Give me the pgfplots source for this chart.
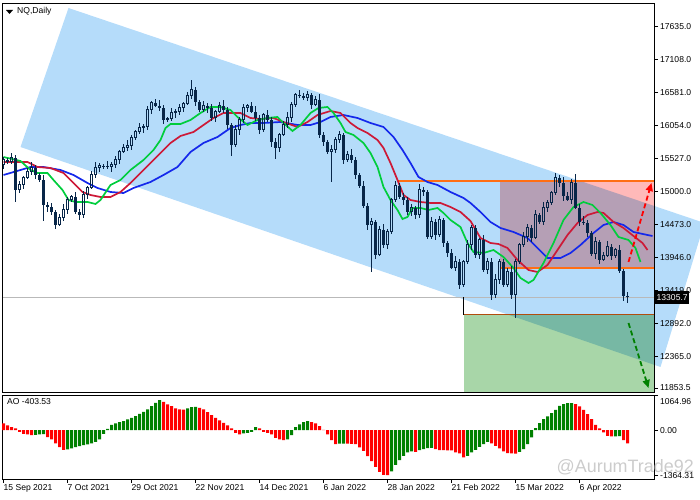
\documentclass[border=0pt]{standalone}
\usepackage{fontspec}
\setmainfont{Liberation Sans}
\usepackage{pgfplots}
\pgfplotsset{compat=1.18}
\usepackage{pgfplotstable}
\usetikzlibrary{arrows.meta}

\definecolor{chan}{RGB}{181,220,250}
\definecolor{pinkr}{RGB}{255,185,185}
\definecolor{greenr}{RGB}{168,214,168}
\definecolor{candle}{RGB}{8,38,72}
\definecolor{lips}{RGB}{0,205,60}
\definecolor{teeth}{RGB}{205,25,55}
\definecolor{jaw}{RGB}{20,40,235}
\definecolor{orl}{RGB}{255,110,20}
\definecolor{aog}{RGB}{0,128,0}
\definecolor{aor}{RGB}{255,0,0}
\newcommand\tl{\fontsize{8.6}{10}\selectfont}
\pgfplotsset{
  stick/.style={draw=candle, line width=#1, mark=none, forget plot},
  bull/.style={restrict expr to domain={\thisrow{c}-\thisrow{o}}{0.5:100000}},
  bear/.style={restrict expr to domain={\thisrow{o}-\thisrow{c}}{0.5:100000}},
}

% NQ daily candles, index 0 = 15 Sep 2021
\pgfplotstableread{
i o h l c
0 15422 15550 15358 15502
1 15502 15534 15430 15470
2 15470 15614 15438 15534
3 15534 15574 14830 15022
4 15022 15166 14974 15102
5 15102 15238 15030 15214
6 15214 15366 15190 15310
7 15310 15470 15254 15374
8 15374 15422 15198 15262
9 15262 15294 15142 15182
10 15182 15262 14530 14782
11 14782 14822 14662 14750
12 14750 14814 14622 14670
13 14670 14694 14390 14462
14 14462 14630 14438 14574
15 14574 14798 14518 14702
16 14702 14910 14638 14862
17 14862 14942 14822 14910
18 14910 14990 14638 14670
19 14670 14710 14534 14622
20 14622 15006 14574 14942
21 14942 15078 14870 15054
22 15054 15318 15030 15262
23 15262 15470 15206 15374
24 15374 15454 15310 15406
25 15406 15438 15350 15390
26 15390 15478 15358 15398
27 15398 15462 15310 15422
28 15422 15566 15374 15502
29 15502 15654 15430 15630
30 15630 15750 15606 15694
31 15694 15822 15638 15726
32 15726 15902 15662 15854
33 15854 15982 15814 15950
34 15950 16094 15918 16014
35 16014 16070 15926 16030
36 16030 16366 15982 16302
37 16302 16438 16230 16414
38 16414 16470 16342 16366
39 16366 16462 16278 16334
40 16334 16382 16078 16142
41 16142 16190 16102 16158
42 16158 16334 16126 16254
43 16254 16310 16166 16270
44 16270 16398 16222 16334
45 16334 16422 16262 16398
46 16398 16582 16374 16526
47 16526 16782 16470 16622
48 16622 16670 16366 16430
49 16430 16462 16262 16302
50 16302 16446 16270 16366
51 16366 16406 16246 16334
52 16334 16398 16126 16174
53 16174 16294 16102 16270
54 16270 16422 16246 16366
55 16366 16462 16246 16302
56 16302 16350 15998 16062
57 16062 16094 15560 15742
58 15742 16062 15710 15982
59 15982 16182 15894 16142
60 16142 16398 16094 16334
61 16334 16390 16262 16366
62 16366 16422 16246 16270
63 16270 16366 16118 16174
64 16174 16222 15918 15982
65 15982 16254 15942 16222
66 16222 16302 16110 16142
67 16142 16182 15702 15790
68 15790 15854 15520 15694
69 15694 15926 15622 15902
70 15902 16118 15878 16062
71 16062 16270 16006 16174
72 16174 16430 16110 16382
73 16382 16574 16342 16542
74 16542 16622 16494 16526
75 16526 16566 16454 16494
76 16494 16606 16446 16542
77 16542 16566 16310 16382
78 16382 16518 16358 16462
79 16462 16558 15846 15902
80 15902 15950 15726 15790
81 15790 15822 15598 15630
82 15630 15742 15150 15662
83 15662 15862 15614 15822
84 15822 15966 15774 15902
85 15902 15926 15430 15502
86 15502 15638 15470 15582
87 15582 15678 15446 15502
88 15502 15550 15198 15262
89 15262 15294 15046 15086
90 15086 15166 14734 14766
91 14766 14806 14374 14462
92 14462 14574 13710 14510
93 14510 14534 13910 13982
94 13982 14438 13958 14382
95 14382 14478 14086 14142
96 14142 14398 14078 14350
97 14350 14894 14310 14862
98 14862 15166 14830 15086
99 15086 15126 14870 14910
100 14910 14974 14774 14862
101 14862 14902 14622 14670
102 14670 14794 14598 14734
103 14734 14758 14550 14622
104 14622 15118 14566 15022
105 15022 15070 14926 14990
106 14990 15022 14230 14270
107 14270 14590 14238 14510
108 14510 14550 14214 14302
109 14302 14606 14262 14542
110 14542 14566 14102 14174
111 14174 14198 13942 14014
112 14014 14070 13750 13774
113 13774 13966 13718 13870
114 13870 13918 13438 13502
115 13502 13902 13462 13870
116 13870 14222 13838 14142
117 14142 14454 14054 14414
118 14414 14462 13934 13982
119 13982 14254 13910 14222
120 14222 14302 13710 13742
121 13742 13926 13670 13870
122 13870 13926 13254 13342
123 13342 13678 13294 13582
124 13582 13918 13518 13870
125 13870 13910 13462 13502
126 13502 13774 13470 13710
127 13710 13806 13270 13342
128 13342 13918 12974 13870
129 13870 14174 13830 14142
130 14142 14350 14110 14270
131 14270 14470 14182 14414
132 14414 14454 14190 14254
133 14254 14702 14230 14622
134 14622 14654 14478 14510
135 14510 14830 14454 14734
136 14734 14862 14670 14814
137 14814 15006 14774 14974
138 14974 15294 14942 15214
139 15214 15254 15062 15134
140 15134 15230 14838 14926
141 14926 14990 14838 14862
142 14862 15190 14790 15134
143 15134 15278 14710 14734
144 14734 14790 14446 14510
145 14510 14606 14462 14494
146 14494 14542 14270 14334
147 14334 14366 13958 13998
148 13998 14270 13910 14190
149 14190 14214 13830 13902
150 13902 14022 13878 13966
151 13966 14206 13942 14110
152 14110 14158 13902 13966
153 13966 14094 13926 14062
154 14062 14142 13694 13726
155 13726 13750 13238 13326
156 13326 13390 13210 13305.7
}\candles

% Awesome Oscillator, u = 1 when the bar is higher than the one before
\pgfplotstableread{
i v u
0 203 0
1 142 0
2 91 0
3 52 0
4 -52 0
5 -112 0
6 -130 0
7 -152 0
8 -142 1
9 -130 1
10 -121 1
11 -212 0
12 -282 0
13 -403 0
14 -515 0
15 -597 0
16 -585 1
17 -554 1
18 -515 1
19 -485 1
20 -455 1
21 -433 1
22 -403 1
23 -355 1
24 -282 1
25 -112 1
26 39 1
27 161 1
28 203 1
29 242 1
30 273 1
31 324 1
32 373 1
33 424 1
34 494 1
35 554 1
36 627 1
37 727 1
38 827 1
39 909 1
40 857 0
41 779 0
42 727 0
43 657 0
44 627 0
45 621 0
46 657 1
47 697 1
48 706 1
49 676 0
50 627 0
51 545 0
52 455 0
53 373 0
54 294 0
55 221 0
56 142 0
57 52 0
58 -82 0
59 -130 0
60 -100 1
61 -82 1
62 -52 1
63 91 1
64 52 0
65 -52 0
66 -82 0
67 -130 0
68 -233 0
69 -282 0
70 -303 0
71 -282 1
72 -152 1
73 91 1
74 173 1
75 242 1
76 273 1
77 242 0
78 203 0
79 121 0
80 9 0
81 -130 0
82 -303 0
83 -424 0
84 -412 1
85 -409 1
86 -412 0
87 -418 0
88 -424 0
89 -524 0
90 -627 0
91 -788 0
92 -939 0
93 -1112 0
94 -1264 0
95 -1354 0
96 -1364.31 0
97 -1251 1
98 -1051 1
99 -909 1
100 -779 1
101 -676 1
102 -645 1
103 -657 0
104 -606 1
105 -576 1
106 -545 1
107 -542 1
108 -576 0
109 -606 0
110 -609 0
111 -612 0
112 -615 0
113 -676 0
114 -706 0
115 -827 0
116 -779 1
117 -676 1
118 -597 1
119 -506 1
120 -424 1
121 -355 1
122 -403 0
123 -476 0
124 -554 0
125 -645 0
126 -697 0
127 -706 0
128 -709 0
129 -657 1
130 -576 1
131 -424 1
132 -221 1
133 61 1
134 212 1
135 333 1
136 415 1
137 515 1
138 615 1
139 736 1
140 788 1
141 818 1
142 821 1
143 788 0
144 718 0
145 615 0
146 485 0
147 333 0
148 161 0
149 52 0
150 -70 0
151 -173 0
152 -191 0
153 -188 1
154 -185 1
155 -303 0
156 -403.53 0
}\aodata

\begin{document}
\begin{tikzpicture}
\useasboundingbox (0,0) rectangle (700bp,500bp);

\begin{axis}[
    at={(2bp,108bp)}, anchor=south west,
    width=652bp, height=389bp, scale only axis,
    xmin=-0.375, xmax=162.625, ymin=11790, ymax=18014,
    clip=false, axis on top,
    xtick=\empty,
    ytick={11853.5,12365,12892,13419,13946,14473,15000,15527,16054,16581,17108,17635},
    scaled y ticks=false,
    ytick pos=right, yticklabel pos=right,
    tick align=outside, major tick length=4bp,
    tick style={black, line width=0.8bp},
    axis line style={black, line width=0.8bp},
    yticklabel style={font=\tl, anchor=west, inner sep=0pt, xshift=2bp},
    /pgf/number format/.cd, fixed, fixed zerofill, precision=1, 1000 sep={}, assume math mode=true
]
% channel and boxes
\addplot[fill=chan, draw=none, forget plot] coordinates {
    (16.25,17934) (174.25,14516) (174.25,14286) (164.25,12190) (4.25,15710)};
\addplot[fill=pinkr, draw=none, blend mode=multiply, forget plot] coordinates {
    (124,15166) (162.625,15166) (162.625,13774) (124,13774)};
\addplot[fill=greenr, draw=none, blend mode=multiply, forget plot] coordinates {
    (115,13022) (162.625,13022) (162.625,11790) (115,11790)};

% levels
\addplot[color=gray!55, line width=0.8bp, forget plot] coordinates {(-0.375,13305.7) (162.625,13305.7)};
\addplot[color=orl, line width=1.2bp, forget plot] coordinates {(98.25,15166) (162.625,15166)};
\addplot[color=orl, line width=1.2bp, forget plot] coordinates {(124,13774) (162.625,13774)};
\addplot[color=orl!70!black, line width=1bp, forget plot] coordinates {(115,13022) (162.625,13022)};
\addplot[color=black, line width=0.8bp, forget plot] coordinates {(115,13305.7) (115,13022)};

% Alligator lines
\addplot[color=jaw, line width=1.7bp] coordinates {
(0,15262) (4.25,15342) (6.75,15390) (10,15390) (14.25,15342) (17.5,15262)
(21,15134) (23.5,15054) (26.75,14990) (30,14974) (32.5,15054) (36.75,15150)
(40,15262) (43.5,15390) (46.75,15630) (50,15774) (53.5,15870) (56.75,16014)
(59.25,16062) (61.75,16094) (65,16094) (69.25,16110) (73.5,16062) (76.75,16062)
(79.25,16110) (81.75,16190) (85,16222) (88.5,16174) (91.75,16094) (95,16030)
(97.5,15870) (99.75,15662) (101.75,15454) (103.75,15230) (106,15150) (108.5,15102)
(111.75,14990) (115,14894) (116.75,14814) (119.25,14670) (121.75,14510) (124.25,14414)
(127.5,14350) (131,14254) (133.5,14094) (136,13934) (139.25,13934) (141.75,14014)
(144.25,14142) (147.5,14334) (150,14462) (152.5,14510) (155,14462) (157.5,14350)
(161,14302) (162.25,14286)};
\addplot[color=teeth, line width=1.7bp] coordinates {
(0,15470) (6,15470) (8.5,15390) (11.75,15374) (15,15294) (17.5,15134)
(19.75,14990) (21.75,14942) (24.25,14910) (26.75,14910) (29.25,14990) (31.75,15134)
(34.25,15294) (36.75,15454) (39.25,15614) (41.75,15774) (44.25,15886) (47.5,15950)
(50,16062) (52.5,16174) (55,16254) (59.25,16254) (61.75,16174) (64.25,16158)
(67.5,16174) (70,16110) (73.5,16030) (76,16110) (78.5,16222) (81.75,16286)
(84.25,16254) (86.75,16094) (88.5,16014) (91,15934) (93.5,15822) (95,15694)
(96.75,15454) (98.5,15182) (100,14942) (101.75,14862) (104.25,14830) (106.75,14814)
(109.25,14814) (111.75,14750) (114.25,14670) (116.75,14526) (119.25,14254) (121.75,14174)
(123.75,14158) (126,14094) (128.5,13902) (131.25,13742) (133.5,13710) (136,13822)
(138.5,14062) (141,14302) (143.5,14494) (146,14622) (148.5,14670) (150,14654)
(152.5,14510) (155,14414) (157.5,14286) (159.75,14174) (161,14062)};
\addplot[color=lips, line width=1.7bp] coordinates {
(0,15550) (4.25,15486) (6.75,15342) (8.5,15294) (11,15294) (12.5,15182)
(14.75,15022) (16.25,14862) (18,14830) (21,14830) (23,14798) (24.25,14862)
(26.75,15102) (29.25,15182) (31.75,15342) (35,15502) (37.5,15662) (39.25,15822)
(40.5,16014) (41.75,16078) (44.25,16078) (46.75,16142) (49.25,16254) (51.75,16350)
(54.25,16350) (56.75,16302) (58.5,16190) (61,16062) (63.5,16142) (66,16174)
(68.5,16190) (70,16094) (72.25,15966) (74.25,16062) (76.75,16254) (78.75,16334)
(81,16350) (82.5,16254) (84.25,16094) (85.5,15950) (87.5,15902) (90,15774)
(91.75,15614) (93.5,15390) (95,15070) (96.75,14862) (98.5,14702) (99.75,14558)
(101,14590) (102.25,14734) (104.25,14734) (106.25,14702) (108.5,14734) (110,14654)
(111.75,14542) (114.25,14430) (116,14174) (117.5,14030) (120,14014) (122.5,14062)
(125,13950) (127.5,13774) (129.25,13614) (131.25,13534) (132.5,13582) (135,13854)
(137.5,14174) (140,14542) (142.5,14750) (145,14830) (147.25,14782) (149.25,14654)
(151.75,14462) (153.75,14270) (156.25,14222) (158,14094) (159.25,13870)};

% candles drawn as quiver segments: wicks above and below the body
\addplot[stick=1bp, quiver={u=0, v={\thisrow{h}-max(\thisrow{o},\thisrow{c})}}]
    table[x=i, y expr={max(\thisrow{o},\thisrow{c})}] {\candles};
\addplot[stick=1bp, quiver={u=0, v={\thisrow{l}-min(\thisrow{o},\thisrow{c})}}]
    table[x=i, y expr={min(\thisrow{o},\thisrow{c})}] {\candles};
% bearish bodies, filled
\addplot[stick=3bp, bear, quiver={u=0, v={\thisrow{o}-\thisrow{c}}}]
    table[x=i, y=c] {\candles};
% bullish bodies, hollow: sides, top and bottom
\addplot[stick=1bp, bull, quiver={u=0, v={\thisrow{c}-\thisrow{o}}}]
    table[x expr={\thisrow{i}-0.25}, y=o] {\candles};
\addplot[stick=1bp, bull, quiver={u=0, v={\thisrow{c}-\thisrow{o}}}]
    table[x expr={\thisrow{i}+0.25}, y=o] {\candles};
\addplot[stick=1bp, bull, quiver={u=0.75, v=0}]
    table[x expr={\thisrow{i}-0.375}, y=c] {\candles};
\addplot[stick=1bp, bull, quiver={u=0.75, v=0}]
    table[x expr={\thisrow{i}-0.375}, y=o] {\candles};

% forecast arrows
\draw[red, line width=1.8bp, dash pattern=on 5bp off 3bp, -{Triangle[length=8bp,width=7bp]}]
    (axis cs:156.25,13870) -- (axis cs:162,15134);
\draw[green!50!black, line width=1.8bp, dash pattern=on 5bp off 3bp, -{Triangle[length=8bp,width=7bp]}]
    (axis cs:156.25,12894) -- (axis cs:161.25,11854);

\coordinate (pricebox) at (axis cs:162.625,13305.7);
\end{axis}

\begin{axis}[
    at={(2bp,21bp)}, anchor=south west,
    width=652bp, height=84bp, scale only axis,
    xmin=-0.375, xmax=162.625, ymin=-1482, ymax=1064.96,
    xtick={0,16,32,48,64,80,96,112,128,144},
    xticklabels={15 Sep 2021,7 Oct 2021,29 Oct 2021,22 Nov 2021,14 Dec 2021,6 Jan 2022,28 Jan 2022,21 Feb 2022,15 Mar 2022,6 Apr 2022},
    xtick pos=bottom,
    ytick={-1364.31,0}, extra y ticks={1064.96},
    extra y tick style={yticklabel style={yshift=-7bp}},
    scaled y ticks=false,
    ytick pos=right, yticklabel pos=right,
    tick align=outside, major tick length=4bp,
    tick style={black, line width=0.8bp},
    axis line style={black, line width=0.8bp},
    yticklabel style={font=\tl, anchor=west, inner sep=0pt, xshift=2bp},
    xticklabel style={font=\tl, anchor=north west, inner sep=0pt, yshift=-1bp},
    /pgf/number format/.cd, fixed, fixed zerofill, precision=2, 1000 sep={}, assume math mode=true
]
\addplot[ybar, bar shift=0pt, bar width=3bp, fill=aog, draw=none,
    restrict expr to domain={\thisrow{u}}{0.5:1.5}]
    table[x=i, y=v] {\aodata};
\addplot[ybar, bar shift=0pt, bar width=3bp, fill=aor, draw=none,
    restrict expr to domain={\thisrow{u}}{-0.5:0.5}]
    table[x=i, y=v] {\aodata};
\end{axis}

% labels drawn over the axes
\node[fill=black, text=white, font=\tl, anchor=west, inner sep=1.5bp, minimum height=13bp] at ([xshift=1bp]pricebox) {13305.7};
\fill (6bp,490bp) -- (13bp,490bp) -- (9.5bp,486bp) -- cycle;
\node[font=\tl, anchor=west, inner sep=0pt] at (17bp,488.5bp) {NQ,Daily};
\node[font=\tl, anchor=west, inner sep=0pt] at (7bp,98bp) {AO -403.53};
\node[text=gray!40, font=\fontsize{18}{18}\selectfont, anchor=east, inner sep=0pt] at (694bp,33bp) {@AurumTrade92};
\end{tikzpicture}
\end{document}
